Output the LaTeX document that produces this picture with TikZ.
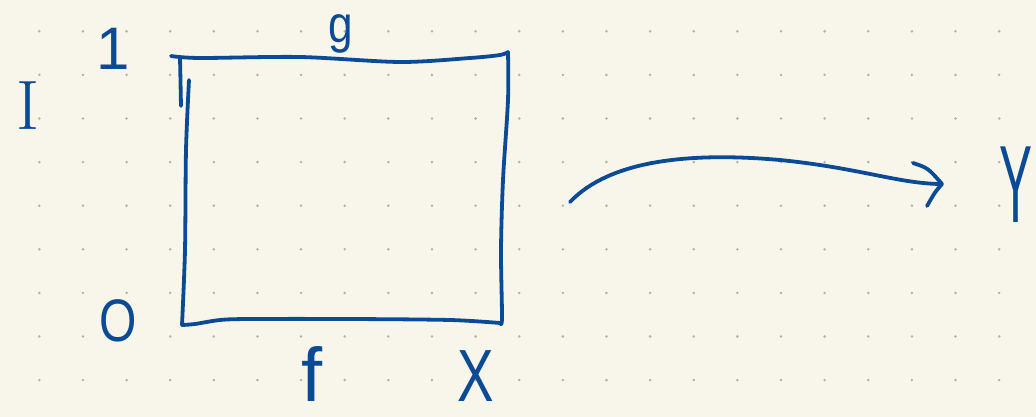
\documentclass[tikz,border=0pt]{standalone}
\usepackage{fontspec}
\newfontfamily\hand{Liberation Sans}
\definecolor{paper}{HTML}{F8F6EA}
\definecolor{ink}{HTML}{0B4A94}
\definecolor{dotc}{HTML}{B3B2AA}
\tikzset{
  pen/.style={draw=ink, line width=3.8pt, line cap=round, line join=round},
  lbl/.style={text=ink, inner sep=0pt, outer sep=0pt, anchor=base},
}
\newcommand{\fs}[1]{\fontsize{#1}{#1}\selectfont}
\begin{document}
\begin{tikzpicture}[x=1pt,y=-1pt]
\fill[paper] (0,0) rectangle (1036,417);
\useasboundingbox (0,0) rectangle (1036,417);
% dot grid
\foreach \i in {0,...,22}{
  \foreach \j in {0,...,8}{
    \fill[dotc] ({39.3+43.63*\i},{31.3+43.6*\j}) circle (1.4);
  }
}
% square
\draw[pen] plot[smooth, tension=0.5] coordinates {(171,56) (200,58) (300,57) (400,62) (470,58) (500,55) (508,52)};
\draw[pen] plot[smooth, tension=0.5] coordinates {(508,52) (508,100) (503,180) (501,250) (502,318) (500,323)};
\draw[pen] plot[smooth, tension=0.5] coordinates {(500,323) (450,320) (350,319) (250,319) (220,320) (195,324) (182,325)};
\draw[pen] plot[smooth, tension=0.5] coordinates {(182,325) (185,250) (186,150) (189,80)};
\draw[pen] (180,57) -- (181,106);
% labels (positioned by baseline)
\node[lbl] (one) at (113,70) {\hand\fs{60}1};
\node[lbl] (g) at (341,43) {\hand\fs{52}\scalebox{0.85}[1]{g}};
\node[lbl] (I) at (28,130) {\fs{70}I};
\node[lbl] (O) at (118,341) {\hand\fs{60}\scalebox{0.8}[1]{O}};
\node[lbl] (f) at (312,401) {\hand\fs{76}f};
\node[lbl] (X) at (476,401) {\hand\fs{74}\scalebox{0.74}[1]{X}};
\node[lbl] (Y) at (1016,222) {\hand\fs{110}\scalebox{0.45}[1]{Y}};
% arrow
\coordinate (arrowstart) at (570,202);
\coordinate (arrowend) at (942,184);
\draw[pen] (arrowstart) .. controls (610,160) and (690,152) .. (780,160) .. controls (860,168) and (900,184) .. (arrowend);
\draw[pen] (913,163) .. controls (928,168) .. (arrowend) .. controls (935,192) .. (927,206);
\end{tikzpicture}
\end{document}
